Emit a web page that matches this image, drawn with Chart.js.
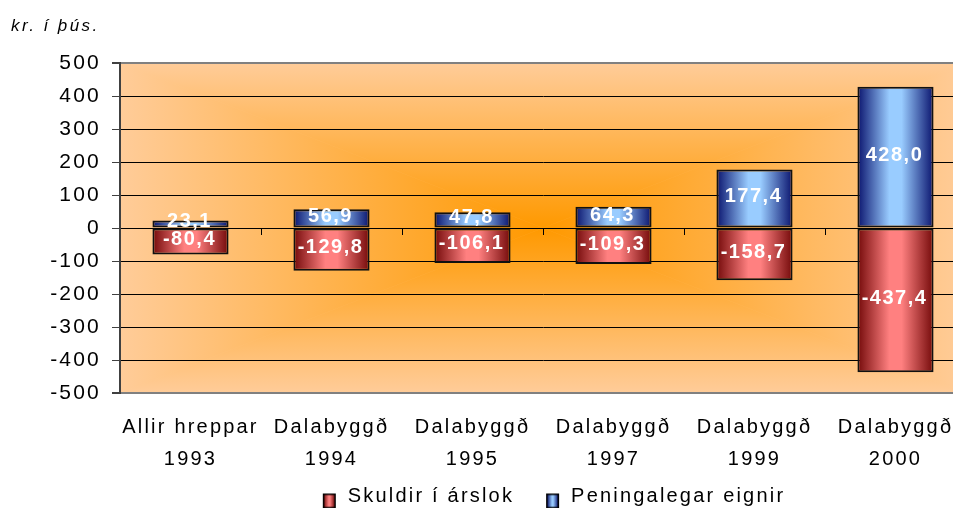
<!DOCTYPE html>
<html><head><meta charset="utf-8">
<script src="https://cdn.jsdelivr.net/npm/chart.js@4/dist/chart.umd.min.js"></script>
<style>
html,body{margin:0;padding:0;overflow:hidden;background:#fff;width:953px;height:508px}
#wrap{position:absolute;left:0;top:0;width:1090px;height:516px}
</style>
</head><body><div id="wrap"><canvas id="c" width="1090" height="516"></canvas></div>
<script>
const categories = [['Allir hreppar','1993'],['Dalabyggð','1994'],['Dalabyggð','1995'],['Dalabyggð','1997'],['Dalabyggð','1999'],['Dalabyggð','2000']];
const skuldir = [-80.4,-129.8,-106.1,-109.3,-158.7,-437.4];
const eignir = [23.1,56.9,47.8,64.3,177.4,428.0];
const yTickValues = [500,400,300,200,100,0,-100,-200,-300,-400,-500];
const seriesNames = ['Skuldir í árslok','Peningalegar eignir'];
const unitLabel = 'kr. í þús.';

const FONT = "'Liberation Sans', Arial, sans-serif";
const SPACING = '2.2px';
const BAR_PCT = 0.54;
const ICON_MARGIN = 22;
const ICON_RIGHT = 2;
const redStops = ['#740a0a','#ff8080'];
const blueStops = ['#0a146e','#99ccff'];

function barGradient(stops){
  return function(c){
    const chart = c.chart;
    if (!chart.chartArea || c.dataIndex === undefined) return stops[1];
    const xs = chart.scales.x;
    const x = xs.getPixelForValue(c.dataIndex);
    const w = xs.width / categories.length * BAR_PCT;
    const g = chart.ctx.createLinearGradient(x - w/2, 0, x + w/2, 0);
    g.addColorStop(0, stops[0]);
    g.addColorStop(0.42, stops[1]);
    g.addColorStop(0.58, stops[1]);
    g.addColorStop(1, stops[0]);
    return g;
  };
}

function legendIcon(stops){
  const cv = document.createElement('canvas');
  cv.width = ICON_MARGIN + 13 + ICON_RIGHT; cv.height = 25;
  const x = cv.getContext('2d');
  const m = ICON_MARGIN, t = 10;
  const g = x.createLinearGradient(m+1,0,m+12,0);
  g.addColorStop(0, stops[0]); g.addColorStop(0.45, stops[1]); g.addColorStop(0.55, stops[1]); g.addColorStop(1, stops[0]);
  x.fillStyle = g; x.fillRect(m+1,t+1,11,13);
  x.strokeStyle = '#000'; x.lineWidth = 1.5; x.strokeRect(m+0.75,t+0.75,11.5,13.5);
  return cv;
}
const icons = [legendIcon(redStops), legendIcon(blueStops)];

const spacingPlugin = {
  id: 'spacing',
  beforeUpdate(chart){ chart.ctx.letterSpacing = SPACING; },
  beforeLayout(chart){ chart.ctx.letterSpacing = SPACING; },
  beforeDraw(chart){ chart.ctx.letterSpacing = SPACING; }
};

const bgPlugin = {
  id: 'bg',
  beforeDraw(chart){
    const {ctx, chartArea:a} = chart;
    const cx = (a.left + a.right)/2, cy = (a.top + a.bottom)/2;
    const inner = '#ff9900', outer = '#ffcc99';
    ctx.save();
    ctx.fillStyle = outer; ctx.fillRect(a.left, a.top, a.right-a.left, a.bottom-a.top);
    const tris = [
      [[a.left,a.top],[a.right,a.top],[cx,a.top]],
      [[a.left,a.bottom],[a.right,a.bottom],[cx,a.bottom]],
      [[a.left,a.top],[a.left,a.bottom],[a.left,cy]],
      [[a.right,a.top],[a.right,a.bottom],[a.right,cy]]
    ];
    tris.forEach(t=>{
      const g = ctx.createLinearGradient(cx,cy,t[2][0],t[2][1]);
      g.addColorStop(0, inner); g.addColorStop(1, outer);
      ctx.beginPath(); ctx.moveTo(t[0][0],t[0][1]); ctx.lineTo(t[1][0],t[1][1]); ctx.lineTo(cx,cy); ctx.closePath();
      ctx.fillStyle = g; ctx.fill();
      ctx.strokeStyle = g; ctx.lineWidth = 0.6; ctx.stroke();
    });
    ctx.restore();
  }
};

const extrasPlugin = {
  id: 'extras',
  afterDatasetsDraw(chart){
    const {ctx, scales:{x, y}} = chart;
    ctx.save();
    const y0 = y.getPixelForValue(0);
    ctx.strokeStyle = '#000'; ctx.lineWidth = 1;
    for (let i = 0; i < categories.length; i++){
      const bx = Math.round((x.getPixelForValue(i) + x.getPixelForValue(i+1))/2) + 0.5;
      ctx.beginPath(); ctx.moveTo(bx, y0); ctx.lineTo(bx, y0 + 7); ctx.stroke();
    }
    ctx.letterSpacing = '1.5px';
    ctx.font = 'bold 20px ' + FONT;
    ctx.fillStyle = '#fff';
    ctx.textAlign = 'center'; ctx.textBaseline = 'middle';
    chart.data.datasets.forEach((ds, di) => {
      chart.getDatasetMeta(di).data.forEach((el, i) => {
        const txt = ds.data[i].toFixed(1).replace('.', ',');
        ctx.fillText(txt, el.x - 1, (el.y + el.base)/2 - 2);
      });
    });
    ctx.letterSpacing = '2.4px';
    ctx.font = 'italic 17px ' + FONT;
    ctx.fillStyle = '#000';
    ctx.textAlign = 'left'; ctx.textBaseline = 'alphabetic';
    ctx.fillText(unitLabel, 11, 31);
    ctx.restore();
  }
};

const ctx = document.getElementById('c').getContext('2d');
ctx.letterSpacing = SPACING;
new Chart(ctx, {
  type: 'bar',
  data: {
    labels: categories,
    datasets: [
      { label: seriesNames[0], data: skuldir, backgroundColor: barGradient(redStops), borderColor: '#111', borderWidth: 2, borderSkipped: false },
      { label: seriesNames[1], data: eignir, backgroundColor: barGradient(blueStops), borderColor: '#111', borderWidth: 2, borderSkipped: false }
    ]
  },
  options: {
    responsive: false,
    animation: false,
    devicePixelRatio: 1,
    layout: { padding: { top: 63, right: 124, left: 0, bottom: 0 } },
    datasets: { bar: { barPercentage: BAR_PCT, categoryPercentage: 1 } },
    plugins: {
      title: { display: false },
      tooltip: { enabled: false },
      legend: {
        position: 'bottom',
        fullSize: false,
        labels: {
          font: { family: FONT, size: 20 },
          color: '#000',
          usePointStyle: true,
          pointStyleWidth: ICON_MARGIN + 13 + ICON_RIGHT,
          boxHeight: 15,
          padding: 10,
          generateLabels(chart){
            return chart.data.datasets.map((d, i) => ({
              text: d.label, pointStyle: icons[i], datasetIndex: i, hidden: false,
              fillStyle: '#000', strokeStyle: '#000', lineWidth: 0, fontColor: '#000'
            }));
          }
        }
      }
    },
    scales: {
      x: {
        stacked: true,
        grid: { display: false },
        border: { display: false },
        ticks: { font: { family: FONT, size: 20, lineHeight: 1.63 }, color: '#000', padding: 10, maxRotation: 0, autoSkip: false },
        afterFit(s){ s.height = 83; }
      },
      y: {
        stacked: true,
        min: -500, max: 500,
        afterBuildTicks(s){ s.ticks = yTickValues.map(v => ({ value: v })); },
        afterFit(s){ s.width = 120; },
        grid: {
          color: c => (c.tick && Math.abs(c.tick.value) === 500) ? '#808080' : '#000',
          lineWidth: c => (c.tick && Math.abs(c.tick.value) === 500) ? 2 : 1,
          tickColor: '#404040', tickLength: 8
        },
        border: { color: '#404040', width: 2 },
        ticks: { font: { family: FONT, size: 21 }, color: '#000', padding: 11 }
      }
    }
  },
  plugins: [spacingPlugin, bgPlugin, extrasPlugin]
});
</script>
</body></html>
